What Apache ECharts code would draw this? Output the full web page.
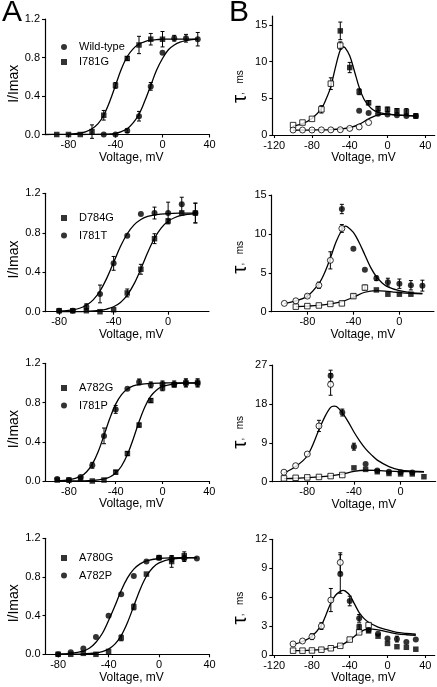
<!DOCTYPE html>
<html><head><meta charset="utf-8">
<script src="https://cdn.jsdelivr.net/npm/echarts@6/dist/echarts.min.js"></script>
<style>html,body{margin:0;padding:0;background:#fff}#c{width:437px;height:687px}</style>
</head><body><div id="c"></div>
<script>
// ================= DATA =================
// ---- Panel A1 : Wild-type (circles) / I781G (squares) ----
const a1WtV   = [-50,-40,-30,-20,-10,0,10,20,30];
const a1WtI   = [0,0,0.04,0.19,0.50,0.85,1.00,1.00,0.99];
const a1WtErr = [0,0,0.02,0.05,0.04,0,0.03,0.04,0.07];
const a1MutV   = [-90,-80,-70,-60,-50,-40,-30,-20,-10,0];
const a1MutI   = [0,0,0,0.03,0.20,0.51,0.79,0.93,0.99,0.99];
const a1MutErr = [0,0,0,0.07,0.05,0.03,0.02,0.09,0.06,0.08];
const a1MutFitV = [-100,-90,-80,-70,-65,-60,-55,-50,-45,-40,-35,-30,-25,-20,-15,-10,-5,0,10,20,30];
const a1MutFitI = [0,0.001,0.004,0.015,0.03,0.06,0.11,0.2,0.34,0.51,0.68,0.81,0.89,0.94,0.965,0.98,0.985,0.99,0.99,0.99,0.99];
const a1WtFitV = [-70,-60,-50,-40,-35,-30,-25,-20,-15,-10,-5,0,5,10,15,20,25,30];
const a1WtFitI = [0,0.001,0.003,0.012,0.03,0.06,0.12,0.21,0.35,0.51,0.67,0.79,0.88,0.93,0.96,0.975,0.985,0.99];

// ---- Panel A2 : D784G (squares) / I781T (circles) ----
const a2SqV   = [-80,-70,-60,-50,-40,-30,-20,-10,0,10,20];
const a2SqI   = [0.01,0.01,0.01,0,0.02,0.19,0.43,0.74,0.92,1.0,1.0];
const a2SqErr = [0,0,0,0,0,0.04,0.05,0.05,0.02,0,0.1];
const a2CiV   = [-80,-70,-60,-50,-40,-30,-20,-10,0,10,20];
const a2CiI   = [0.01,0.01,0.05,0.18,0.49,0.77,0.99,1.0,1.0,1.09,1.0];
const a2CiErr = [0,0,0.03,0.09,0.07,0,0,0.06,0.11,0.07,0.1];
const a2SqFitV = [-80,-70,-60,-50,-45,-40,-35,-30,-25,-20,-15,-10,-5,0,5,10,20];
const a2SqFitI = [0.001,0.0015,0.004,0.014,0.027,0.05,0.094,0.168,0.282,0.434,0.6,0.744,0.85,0.917,0.955,0.977,0.994];
const a2CiFitV = [-80,-70,-65,-60,-55,-50,-45,-40,-35,-30,-25,-20,-15,-10,0,10,20];
const a2CiFitI = [0.005,0.018,0.035,0.065,0.12,0.21,0.34,0.5,0.66,0.79,0.88,0.935,0.965,0.982,0.995,0.999,1.0];

// ---- Panel A3 : A782G (squares) / I781P (circles) ----
const a3SqV   = [-90,-80,-70,-60,-50,-40,-30,-20,-10,0,10,20,30];
const a3SqI   = [0.01,0.01,0.02,0,0.01,0.09,0.28,0.57,0.82,0.95,0.98,1.0,1.0];
const a3SqErr = [0,0,0,0,0,0.02,0.02,0.02,0.02,0.03,0.02,0.04,0.04];
const a3CiV   = [-90,-80,-70,-60,-50,-40,-30,-20,-10,0,10,20,30];
const a3CiI   = [0.02,0.01,0.04,0.16,0.46,0.73,0.94,1.01,0.98,0.99,0.99,1.0,1.0];
const a3CiErr = [0,0,0,0.03,0.08,0.04,0,0.03,0.03,0.03,0.03,0.04,0.04];
const a3SqFitV = [-90,-80,-70,-60,-50,-45,-40,-35,-30,-25,-20,-15,-10,-5,0,10,20,30];
const a3SqFitI = [0,0.0005,0.0015,0.005,0.021,0.041,0.081,0.153,0.269,0.429,0.606,0.758,0.865,0.929,0.964,0.991,0.998,0.999];
const a3CiFitV = [-90,-80,-70,-65,-60,-55,-50,-45,-40,-35,-30,-25,-20,-10,0,10,20,30];
const a3CiFitI = [0.003,0.012,0.047,0.092,0.172,0.298,0.465,0.639,0.784,0.881,0.938,0.969,0.984,0.996,0.999,1,1,1];

// ---- Panel A4 : A780G (squares) / A782P (circles) ----
const a4SqV   = [-80,-70,-60,-50,-40,-30,-20,-10,0,10,20];
const a4SqI   = [0,0,0.01,0,0.03,0.17,0.49,0.83,1.0,0.96,1.02];
const a4SqErr = [0,0,0,0,0,0.03,0.03,0,0.02,0.06,0.04];
const a4CiV   = [-80,-70,-60,-50,-40,-30,-20,-10,0,10,20,30];
const a4CiI   = [0,0.02,0.06,0.18,0.4,0.62,0.81,0.96,1.0,0.99,0.99,0.99];
const a4CiErr = [0,0,0,0,0,0,0,0,0.02,0.03,0.03,0];
const a4SqFitV = [-80,-70,-60,-50,-45,-40,-35,-30,-25,-20,-15,-10,-5,0,10,20,30];
const a4SqFitI = [0.0002,0.0008,0.0033,0.0136,0.027,0.054,0.105,0.193,0.329,0.5,0.671,0.807,0.895,0.946,0.986,0.997,0.999];
const a4CiFitV = [-80,-70,-60,-55,-50,-45,-40,-35,-30,-25,-20,-15,-10,0,10,20,30];
const a4CiFitI = [0.0025,0.0094,0.034,0.065,0.125,0.215,0.35,0.5,0.661,0.791,0.881,0.935,0.966,0.991,0.998,0.999,1.0];

// ---- Panel B1 (tau, ms) : I781G squares, Wild-type circles ----
const b1OpenSqV = [-100,-90,-80,-70,-60,-50];
const b1OpenSqT = [1.35,1.7,2.2,3.5,7.0,12.2];
const b1OpenSqE = [0,0,0,0.5,0.8,0.5];
const b1FillSqV = [-50,-40,-30,-20,-10,0,10,20,30];
const b1FillSqT = [14.2,9.2,5.9,4.4,3.6,3.5,3.3,3.2,2.6];
const b1FillSqE = [1.2,0.7,0.4,0.3,0.3,0.3,0.3,0.4,0.3];
const b1OpenCiV = [-100,-90,-80,-70,-60,-50,-40,-30,-20];
const b1OpenCiT = [0.68,0.68,0.68,0.7,0.7,0.72,0.9,1.1,1.7];
const b1OpenCiE = [0,0,0,0,0,0,0,0,0];
const b1FillCiV = [-30,-20,-10,0,10,20,30];
const b1FillCiT = [3.3,3.0,2.9,2.8,2.7,2.6,2.6];
const b1FillCiE = [0,0,0,0,0,0,0];
const b1SqFitV = [-100,-90,-80,-70,-65,-60,-55,-50,-47,-45,-40,-35,-30,-25,-20,-15,-10,-5,0,10,20,30];
const b1SqFitT = [1.2,1.55,2.25,3.6,4.9,6.6,9.3,11.6,12.0,11.9,10.8,8.7,6.5,4.9,4.0,3.4,3.1,2.95,2.85,2.7,2.65,2.6];
const b1CiFitV = [-100,-90,-80,-70,-60,-50,-40,-30,-20,-10,0,10,20,30];
const b1CiFitT = [0.65,0.66,0.68,0.7,0.74,0.82,1.0,1.45,2.2,2.75,2.85,2.75,2.65,2.6];

// ---- Panel B2 : I781T circles, D784G squares ----
const b2OpenCiV = [-100,-90,-80,-70,-60,-50];
const b2OpenCiT = [1.07,1.4,2.0,3.4,6.6,10.7];
const b2OpenCiE = [0,0,0.2,0.4,1.1,0.5];
const b2FillCiV = [-50,-40,-30,-20,-10,0,10,20];
const b2FillCiT = [13.2,8.1,5.4,4.3,3.8,3.6,3.4,3.35];
const b2FillCiE = [0.6,0,0,0.3,0.5,0.6,0.6,0.7];
const b2OpenSqV = [-90,-80,-70,-60,-50,-40,-30];
const b2OpenSqT = [0.65,0.72,0.8,1.0,1.07,2.0,3.1];
const b2OpenSqE = [0,0,0,0,0,0.25,0.3];
const b2FillSqV = [-20,-10,0,10];
const b2FillSqT = [2.8,2.25,2.25,2.25];
const b2FillSqE = [0,0,0,0];
const b2CiFitV = [-100,-90,-80,-70,-65,-60,-55,-50,-47,-45,-40,-35,-30,-25,-20,-15,-10,0,10,20];
const b2CiFitT = [1.05,1.4,2.0,3.6,5.0,6.9,9.0,10.5,11.0,10.9,10.2,8.9,7.3,5.7,4.5,3.7,3.2,2.7,2.45,2.35];
const b2SqFitV = [-90,-80,-70,-60,-50,-40,-30,-20,-10,0,10,20];
const b2SqFitT = [0.65,0.72,0.82,1.0,1.3,1.85,2.5,2.7,2.6,2.45,2.35,2.3];

// ---- Panel B3 : I781P circles, A782G squares ----
const b3OpenCiV = [-100,-90,-80,-70,-60];
const b3OpenCiT = [2.2,3.7,6.4,12.9,22.5];
const b3OpenCiE = [0,0,0,1.3,2.5];
const b3FillCiV = [-60,-50,-40,-30,-20,-10,0,10];
const b3FillCiT = [24.5,16.0,8.1,4.1,2.6,2.3,2.2,2.1];
const b3FillCiE = [1.3,0.8,0.8,0,0,0,0,0];
const b3OpenSqV = [-100,-90,-80,-70,-60,-50];
const b3OpenSqT = [0.77,0.9,1.0,1.1,1.3,1.55];
const b3OpenSqE = [0,0,0,0,0,0];
const b3FillSqV = [-40,-30,-20,-10,0,10,20];
const b3FillSqT = [3.2,2.85,2.3,1.9,1.8,1.8,1.15];
const b3FillSqE = [0,0,0,0,0,0,0];
const b3CiFitV = [-100,-90,-80,-70,-65,-60,-57,-55,-50,-45,-40,-35,-30,-25,-20,-10,0,10,20];
const b3CiFitT = [2.0,3.5,6.0,12.0,15.0,17.2,17.5,17.4,16.0,13.9,11.5,9.4,7.6,6.2,5.0,3.5,2.7,2.45,2.3];
const b3SqFitV = [-100,-90,-80,-70,-60,-50,-40,-30,-20,-10,0,10,20];
const b3SqFitT = [0.7,0.8,0.95,1.1,1.35,1.75,2.4,2.65,2.6,2.45,2.35,2.3,2.25];

// ---- Panel B4 : A782P circles, A780G squares ----
const b4OpenCiV = [-100,-90,-80,-70,-60,-50];
const b4OpenCiT = [1.15,1.45,1.9,3.0,5.7,9.6];
const b4OpenCiE = [0,0,0.3,0.35,1.2,1.0];
const b4FillCiV = [-50,-40,-30,-20,-10,0,10,20,30];
const b4FillCiT = [8.4,5.6,3.8,2.6,2.2,1.7,1.65,1.35,1.6];
const b4FillCiE = [2.0,0.5,0.4,0,0,0,0.3,0,0];
const b4OpenSqV = [-100,-90,-80,-70,-60,-50,-40,-30,-20];
const b4OpenSqT = [0.45,0.45,0.47,0.55,0.7,0.95,1.6,2.35,3.1];
const b4OpenSqE = [0,0,0,0,0,0,0,0,0];
const b4FillSqV = [-30,-20,-10,0,10,20,30];
const b4FillSqT = [2.9,2.5,1.95,1.2,0.86,0.8,0.6];
const b4FillSqE = [0.3,0,0,0,0,0,0];
const b4CiFitV = [-100,-90,-80,-70,-65,-60,-55,-50,-47,-45,-40,-35,-30,-25,-20,-10,0,10,20,30];
const b4CiFitT = [1.1,1.4,1.95,3.1,4.2,5.4,6.2,6.6,6.7,6.65,6.2,5.3,4.4,3.8,3.4,2.9,2.6,2.35,2.25,2.15];
const b4SqFitV = [-100,-90,-80,-70,-60,-50,-40,-30,-20,-10,0,10,20,30];
const b4SqFitT = [0.45,0.46,0.5,0.58,0.72,0.98,1.55,2.3,2.7,2.6,2.4,2.2,2.1,2.05];

// tick labels
const xTicksA1 = [-80,-40,0,40], xTicksA2 = [-80,-40,0], xTicksA3 = [-80,-40,0,40], xTicksA4 = [-80,-40,0,40];
const xTicksB1 = [-120,-80,-40,0,40], xTicksB2 = [-80,-40,0], xTicksB3 = [-80,-40,0], xTicksB4 = [-120,-80,-40,0,40];
const yTicksA = [0,0.4,0.8,1.2];
const yTicksB1 = [0,5,10,15], yTicksB2 = [0,5,10,15], yTicksB3 = [0,9,18,27], yTicksB4 = [0,3,6,9,12];

// ================= LAYOUT / STYLE =================
const FONT = 'Liberation Sans, Arial, sans-serif';
const panels = [
  {kind:'A', left:45,    top:19,    width:164.5, height:115.5, xMin:-100, xMax:40, xT:xTicksA1, yMax:1.2,  yT:yTicksA},
  {kind:'B', left:272.3, top:16.2,  width:162.4, height:118.8, xMin:-122, xMax:50, xT:xTicksB1, yMax:16.2, yT:yTicksB1, nShift:22},
  {kind:'A', left:45.5,  top:193.3, width:163.5, height:118.4, xMin:-90,  xMax:30, xT:xTicksA2, yMax:1.2,  yT:yTicksA},
  {kind:'B', left:271.7, top:195,   width:162.2, height:116.7, xMin:-111, xMax:30, xT:xTicksB2, yMax:15,   yT:yTicksB2, nShift:8},
  {kind:'A', left:45.5,  top:363.3, width:163.8, height:117.7, xMin:-100, xMax:40, xT:xTicksA3, yMax:1.2,  yT:yTicksA},
  {kind:'B', left:272.3, top:365,   width:163.3, height:116.7, xMin:-110, xMax:30, xT:xTicksB3, yMax:27,   yT:yTicksB3, nShift:18},
  {kind:'A', left:45.5,  top:538.3, width:164,   height:116,   xMin:-90,  xMax:40, xT:xTicksA4, yMax:1.2,  yT:yTicksA},
  {kind:'B', left:272.3, top:539.3, width:162.4, height:115.7, xMin:-122, xMax:50, xT:xTicksB4, yMax:12,   yT:yTicksB4, nShift:22}
];

function pts(xs, ys){ return xs.map((x,i)=>[x, ys[i]]); }
function errPts(xs, ys, es){ return xs.map((x,i)=>[x, ys[i], es[i]]).filter(d=>d[2]>0); }

const grids = [], xAxes = [], yAxes = [], series = [];
panels.forEach((p,i)=>{
  grids.push({left:p.left, top:p.top, width:p.width, height:p.height, containLabel:false});
  xAxes.push({
    gridIndex:i, type:'value', min:p.xMin, max:p.xMax, position:'bottom',
    axisLine:{show:true, onZero:false, lineStyle:{color:'#000', width:1.2}},
    axisTick:{show:true, length:3, customValues:p.xT, lineStyle:{color:'#000', width:1.1}},
    axisLabel:{show:true, customValues:p.xT, margin:5, fontSize:11, color:'#000', fontFamily:FONT},
    splitLine:{show:false},
    name:'Voltage, mV', nameLocation:'middle', nameGap:17,
    nameTextStyle:{fontSize:12, color:'#000', fontFamily:FONT, verticalAlign:'top',
      padding: p.kind==='A' ? [0,0,0,8] : [0,0,0,20]}
  });
  const isA = p.kind==='A';
  yAxes.push({
    gridIndex:i, type:'value', min:0, max:p.yMax,
    axisLine:{show:true, onZero:false, lineStyle:{color:'#000', width:1.2}},
    axisTick:{show:true, length:3, customValues:p.yT, lineStyle:{color:'#000', width:1.1}},
    axisLabel:{show:true, customValues:p.yT, margin:5, fontSize:11, color:'#000', fontFamily:FONT,
      formatter: isA ? (v=>Number(v).toFixed(1)) : (v=>String(Math.round(v)))},
    splitLine:{show:false},
    name: isA ? 'I/Imax' : '{t|τ}{s|,   ms}',
    nameLocation:'middle', nameGap: isA ? 24 : 20,
    nameTextStyle: isA
      ? {fontSize:14, color:'#000', fontFamily:FONT, padding:[0,14,0,0]}
      : {color:'#000', fontFamily:FONT, padding:[0,p.nShift,0,0],
         rich:{t:{fontSize:21, color:'#000', fontFamily:FONT}, s:{fontSize:10, color:'#000', fontFamily:FONT}}}
  });
});

function fit(i, xs, ys){
  series.push({type:'line', xAxisIndex:i, yAxisIndex:i, data:pts(xs,ys), showSymbol:false, symbol:'none',
    smooth:0.35, lineStyle:{color:'#000', width:1.3}, silent:true, z:2, clip:false});
}
function marks(i, name, xs, ys, es, shape, open){
  series.push({type:'custom', xAxisIndex:i, yAxisIndex:i, data:errPts(xs,ys,es), silent:true, z:3, clip:false,
    renderItem:(params, api)=>{
      const x=api.value(0), y=api.value(1), e=api.value(2);
      const t=api.coord([x,y+e]), b=api.coord([x,y-e]);
      const st={stroke:'#000', lineWidth:1};
      return {type:'group', children:[
        {type:'line', shape:{x1:t[0],y1:t[1],x2:b[0],y2:b[1]}, style:st},
        {type:'line', shape:{x1:t[0]-2,y1:t[1],x2:t[0]+2,y2:t[1]}, style:st},
        {type:'line', shape:{x1:b[0]-2,y1:b[1],x2:b[0]+2,y2:b[1]}, style:st}
      ]};
    }});
  series.push({type:'scatter', name, xAxisIndex:i, yAxisIndex:i, data:pts(xs,ys),
    symbol:shape, symbolSize: shape==='rect' ? 5.5 : 6, z:4, clip:false,
    itemStyle: open ? {color:'#fff', borderColor:'#000', borderWidth:1} : {color:'#000'}});
}

// A panels
fit(0, a1MutFitV, a1MutFitI); fit(0, a1WtFitV, a1WtFitI);
marks(0,'Wild-type', a1WtV, a1WtI, a1WtErr, 'circle', false);
marks(0,'I781G', a1MutV, a1MutI, a1MutErr, 'rect', false);
fit(2, a2SqFitV, a2SqFitI); fit(2, a2CiFitV, a2CiFitI);
marks(2,'D784G', a2SqV, a2SqI, a2SqErr, 'rect', false);
marks(2,'I781T', a2CiV, a2CiI, a2CiErr, 'circle', false);
fit(4, a3SqFitV, a3SqFitI); fit(4, a3CiFitV, a3CiFitI);
marks(4,'A782G', a3SqV, a3SqI, a3SqErr, 'rect', false);
marks(4,'I781P', a3CiV, a3CiI, a3CiErr, 'circle', false);
fit(6, a4SqFitV, a4SqFitI); fit(6, a4CiFitV, a4CiFitI);
marks(6,'A780G', a4SqV, a4SqI, a4SqErr, 'rect', false);
marks(6,'A782P', a4CiV, a4CiI, a4CiErr, 'circle', false);
// B panels
fit(1, b1SqFitV, b1SqFitT); fit(1, b1CiFitV, b1CiFitT);
marks(1,'I781G τ open', b1OpenSqV, b1OpenSqT, b1OpenSqE, 'rect', true);
marks(1,'I781G τ filled', b1FillSqV, b1FillSqT, b1FillSqE, 'rect', false);
marks(1,'Wild-type τ open', b1OpenCiV, b1OpenCiT, b1OpenCiE, 'circle', true);
marks(1,'Wild-type τ filled', b1FillCiV, b1FillCiT, b1FillCiE, 'circle', false);
fit(3, b2CiFitV, b2CiFitT); fit(3, b2SqFitV, b2SqFitT);
marks(3,'D784G τ open', b2OpenSqV, b2OpenSqT, b2OpenSqE, 'rect', true);
marks(3,'D784G τ filled', b2FillSqV, b2FillSqT, b2FillSqE, 'rect', false);
marks(3,'I781T τ open', b2OpenCiV, b2OpenCiT, b2OpenCiE, 'circle', true);
marks(3,'I781T τ filled', b2FillCiV, b2FillCiT, b2FillCiE, 'circle', false);
fit(5, b3CiFitV, b3CiFitT); fit(5, b3SqFitV, b3SqFitT);
marks(5,'A782G τ open', b3OpenSqV, b3OpenSqT, b3OpenSqE, 'rect', true);
marks(5,'A782G τ filled', b3FillSqV, b3FillSqT, b3FillSqE, 'rect', false);
marks(5,'I781P τ open', b3OpenCiV, b3OpenCiT, b3OpenCiE, 'circle', true);
marks(5,'I781P τ filled', b3FillCiV, b3FillCiT, b3FillCiE, 'circle', false);
fit(7, b4CiFitV, b4CiFitT); fit(7, b4SqFitV, b4SqFitT);
marks(7,'A780G τ open', b4OpenSqV, b4OpenSqT, b4OpenSqE, 'rect', true);
marks(7,'A780G τ filled', b4FillSqV, b4FillSqT, b4FillSqE, 'rect', false);
marks(7,'A782P τ open', b4OpenCiV, b4OpenCiT, b4OpenCiE, 'circle', true);
marks(7,'A782P τ filled', b4FillCiV, b4FillCiT, b4FillCiE, 'circle', false);

function legend(top, gap, names){
  return {orient:'vertical', left:56, top:top, itemWidth:6, itemHeight:6, itemGap:gap,
    data:names, selectedMode:false,
    textStyle:{fontSize:11, color:'#000', fontFamily:FONT, lineHeight:12, padding:[0,0,0,7]}};
}

const option = {
  animation:false,
  backgroundColor:'#fff',
  grid:grids, xAxis:xAxes, yAxis:yAxes, series:series,
  legend:[
    legend(36, 3, ['Wild-type','I781G']),
    legend(207, 5.5, ['D784G','I781T']),
    legend(377, 5.5, ['A782G','I781P']),
    legend(547, 5.5, ['A780G','A782P'])
  ],
  graphic:[
    {type:'text', x:12, y:12.5, style:{text:'A', fontSize:30, fontFamily:FONT, fill:'#000', align:'center', verticalAlign:'middle'}},
    {type:'text', x:239, y:13, style:{text:'B', fontSize:30, fontFamily:FONT, fill:'#000', align:'center', verticalAlign:'middle'}}
  ]
};
const chart = echarts.init(document.getElementById('c'), null, {renderer:'canvas'});
chart.setOption(option);
</script></body></html>
